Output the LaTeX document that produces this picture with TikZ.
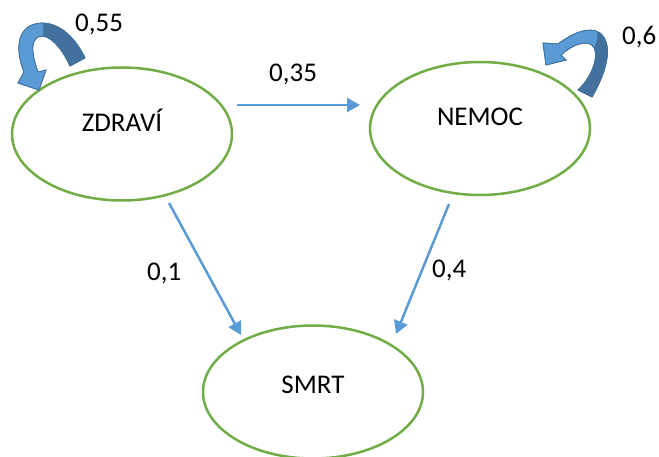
\documentclass[tikz,border=0pt]{standalone}
\usepackage{fontspec}
\setmainfont{Carlito}
\usetikzlibrary{arrows.meta,shapes.geometric}
\definecolor{stategreen}{HTML}{70AD47}
\definecolor{edgeblue}{HTML}{5B9BD5}
\definecolor{loopdark}{HTML}{41719C}
\definecolor{looplight}{HTML}{5B9BD5}
\newcommand{\zdravloop}{(85,58) .. controls (72,30) and (50,18) .. (32,25) .. controls (15,32) and (17,55) .. (24,72) -- (18,83) -- (39,90) -- (46,70) -- (38,72) .. controls (32,55) and (30,42) .. (38,37) .. controls (48,32) and (62,48) .. (70,66) -- cycle}
\newcommand{\nemocloop}{(592,97) .. controls (605,75) and (615,45) .. (600,33) .. controls (588,25) and (570,35) .. (558,44) -- (543,43) -- (546,65) -- (566,60) -- (561,55) .. controls (572,45) and (585,40) .. (592,45) .. controls (600,52) and (594,75) .. (578,90) -- cycle}
\begin{document}
\begin{tikzpicture}[x=1pt,y=-1pt,
  state/.style={ellipse, draw=stategreen, line width=2.5pt, minimum width=220pt, minimum height=133pt, inner sep=0pt},
  txt/.style={font=\fontsize{27}{31}\selectfont, inner sep=0pt},
  conn/.style={draw=edgeblue, line width=2.5pt, -{Triangle[length=13pt,width=14pt]}},
  loopfill/.style={fill=loopdark, draw=loopdark, line width=0.8pt},
  lightfill/.style={fill=looplight}]
\useasboundingbox (0,0) rectangle (659,457);
% states
\node[state] (z) at (122,134) {};
\node[state] (n) at (480,128.5) {};
\node[state] (s) at (313,392) {};
\node[txt, anchor=base] (zt) at (122,132) {ZDRAVÍ};
\node[txt, anchor=base] (nt) at (480,126) {NEMOC};
\node[txt, anchor=base] (st) at (313,393) {SMRT};
% connectors
\draw[conn] ([shift={(115,-29)}]z.center) -- ([shift={(-120,-23.5)}]n.center);
\draw[conn] ([shift={(47,69)}]z.center) -- ([shift={(-72,-57)}]s.center);
\draw[conn] ([shift={(-31,75.5)}]n.center) -- ([shift={(83,-58)}]s.center);
% self loops
\path[loopfill] \zdravloop;
\begin{scope}
  \clip (0,0) -- (43,0) -- (43,60) -- (60,100) -- (0,100) -- cycle;
  \path[lightfill] \zdravloop;
\end{scope}
\draw[loopdark, line width=0.8pt] \zdravloop;
\path[loopfill] \nemocloop;
\begin{scope}
  \clip (530,0) -- (597,0) -- (597,40) -- (575,100) -- (530,100) -- cycle;
  \path[lightfill] \nemocloop;
\end{scope}
\draw[loopdark, line width=0.8pt] \nemocloop;
% labels
\node[txt, anchor=base west] (l55) at (75,32) {0,55};
\node[txt, anchor=base west] (l6) at (622,45) {0,6};
\node[txt, anchor=base west] (l35) at (269,82) {0,35};
\node[txt, anchor=base west] (l1) at (147,280) {0,1};
\node[txt, anchor=base west] (l4) at (432,278) {0,4};
\end{tikzpicture}
\end{document}
